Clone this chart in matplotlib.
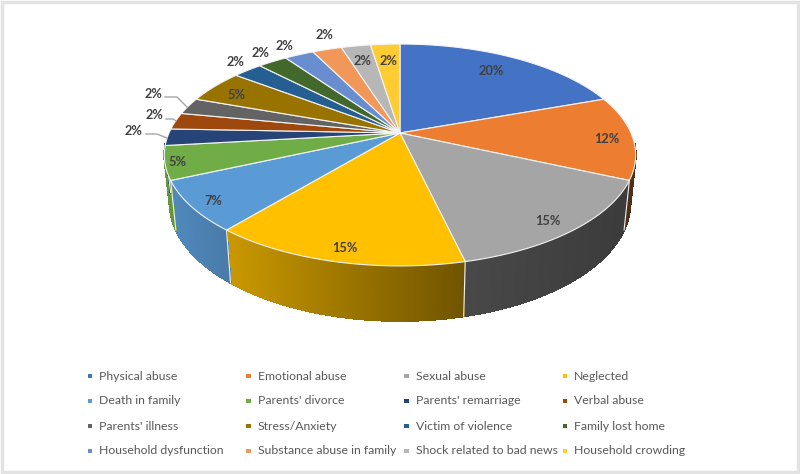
import numpy as np
import matplotlib
matplotlib.use("Agg")
import matplotlib.pyplot as plt
from matplotlib.patches import Polygon, Rectangle
from matplotlib.collections import PolyCollection
from matplotlib.colors import to_rgb

categories = ["Physical abuse", "Emotional abuse", "Sexual abuse", "Neglected",
              "Death in family", "Parents' divorce", "Parents' remarriage", "Verbal abuse",
              "Parents' illness", "Stress/Anxiety", "Victim of violence", "Family lost home",
              "Household dysfunction", "Substance abuse in family",
              "Shock related to bad news", "Household crowding"]
counts = [8, 5, 6, 6, 3, 2, 1, 1, 1, 2, 1, 1, 1, 1, 1, 1]
colors = ["#4472C4", "#ED7D31", "#A5A5A5", "#FFC000", "#5B9BD5", "#70AD47", "#264478", "#9E480E",
          "#636363", "#997300", "#255E91", "#43682B", "#698ED0", "#F1975A", "#B7B7B7", "#FFCD33"]

# layout (pixels)
label_xy = [(491, 71), (607, 139), (548, 221), (345, 248), (213, 201), (177, 162),
            (133, 131), (154, 115), (153, 94), (236, 95), (235, 62), (260, 53),
            (284, 46), (324, 35), (362, 61), (388, 61)]
leaders = [[(146, 134), (157, 134), (167, 138)],
           [(166, 119), (173, 119), (176, 121)],
           [(165, 97), (177, 97), (187, 107)]]
CX, CY = 400.0, 133.0
A, B, K = 231.0, 106.6, 0.198
SHRINK, DEPTH = 0.977, 46.5

def top(theta):
    u, v = np.sin(theta), np.cos(theta)
    d = 1 + K * v
    return CX + A * u / d, CY - B * v / d

def bottom(theta):
    x, y = top(theta)
    d = 1 + K * np.cos(theta)
    return CX + SHRINK * (x - CX), CY + SHRINK * (y - CY) + DEPTH / d

def shade(x):
    return np.interp(x, [172, 233, 463, 628], [0.88, 0.78, 0.44, 0.36])

plt.rcParams["font.family"] = ["Lato", "DejaVu Sans"]
fig = plt.figure(figsize=(8, 4.74), dpi=100, facecolor="white")
ax = fig.add_axes([0, 0, 1, 1])
ax.set_xlim(0, 800)
ax.set_ylim(474, 0)
ax.axis("off")

# outer frame
ax.add_patch(Rectangle((1.5, 1.5), 796, 470, fill=False, ec="#e3e3e3", lw=2.5, zorder=1))

counts_arr = np.array(counts, dtype=float)
total = counts_arr.sum()
edges = np.concatenate([[0], np.cumsum(counts_arr)]) / total * 2 * np.pi

# side walls (only the part that faces the viewer)
polys, fcs = [], []
for i, col in enumerate(colors):
    a0, a1 = edges[i], edges[i + 1]
    t = np.linspace(a0, a1, max(int((a1 - a0) / 0.006), 3))
    rgb = np.array(to_rgb(col))
    for t0, t1 in zip(t[:-1], t[1:]):
        if np.cos(0.5 * (t0 + t1)) > -0.1:
            continue
        x0, y0 = top(t0); x1, y1 = top(t1)
        x2, y2 = bottom(t1); x3, y3 = bottom(t0)
        polys.append([(x0, y0), (x1, y1), (x2, y2), (x3, y3)])
        fcs.append(rgb * shade(0.5 * (x0 + x1)))
ax.add_collection(PolyCollection(polys, facecolors=fcs, edgecolors=fcs, linewidths=0.8,
                                 antialiaseds=False, zorder=2))
# wall seams
for a in edges[:-1]:
    if np.cos(a) < -0.1:
        x0, y0 = top(a); x1, y1 = bottom(a)
        ax.plot([x0, x1], [y0, y1], color="#f2f2f2", lw=0.8, zorder=3)

# top slices
for i, col in enumerate(colors):
    t = np.linspace(edges[i], edges[i + 1], 80)
    xs, ys = top(t)
    pts = [(CX, CY)] + list(zip(xs, ys))
    ax.add_patch(Polygon(pts, closed=True, fc=col, ec="#f4f4f4", lw=0.8, joinstyle="round", zorder=4))

# leader lines
for pts in leaders:
    ax.plot(*zip(*pts), color="#a6a6a6", lw=1.0, zorder=5)

# data labels
for c, (x, y) in zip(counts, label_xy):
    ax.text(x, y, f"{round(100 * c / total)}%", ha="center", va="center",
            fontsize=9.2, fontweight="bold", color="#404040", zorder=6)

# legend
col_x = [90, 248.5, 406.5, 565]
row_y = [376, 401, 426, 451]
for i, (name, col) in enumerate(zip(categories, colors)):
    r, c = divmod(i, 4)
    ax.add_patch(Rectangle((col_x[c] - 2.2, row_y[r] - 2.2), 4.6, 4.6, fc=col, ec="none", zorder=5))
    ax.text(col_x[c] + 9, row_y[r], name, ha="left", va="center",
            fontsize=8.8, color="#595959", zorder=6)

fig.savefig("out.png", dpi=100)
